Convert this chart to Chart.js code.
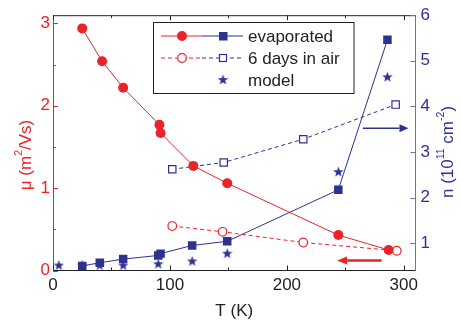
<!DOCTYPE html>
<html>
<head>
<meta charset="utf-8">
<script src="https://cdn.jsdelivr.net/npm/chart.js@4.4.1/dist/chart.umd.min.js"></script>
<style>
  html, body { margin: 0; padding: 0; background: #fff; }
  #wrap { width: 460px; height: 327px; }
</style>
</head>
<body>
<div id="wrap"><canvas id="chart" width="460" height="327"></canvas></div>
<script>
// mobility (left axis)
const T_MU_EVAP = [25, 42, 60, 91, 92, 120, 149, 244, 287];
const MU_EVAP = [2.94, 2.54, 2.22, 1.77, 1.67, 1.27, 1.06, 0.43, 0.25];
const T_MU_AIR = [102, 145, 214, 294];
const MU_AIR = [0.54, 0.47, 0.34, 0.24];

// carrier density (right axis)
const T_N_EVAP = [25, 40, 60, 90, 92, 119, 149, 244, 286];
const N_EVAP = [0.50, 0.57, 0.65, 0.73, 0.77, 0.95, 1.04, 2.17, 5.46];
const T_N_AIR = [102, 146, 214, 293];
const N_AIR = [2.62, 2.77, 3.28, 4.04];
const T_MODEL = [5, 25, 40, 60, 90, 119, 149, 244, 286];
const N_MODEL = [0.52, 0.52, 0.52, 0.52, 0.55, 0.61, 0.78, 2.57, 4.65];

// axis ticks
const X_TICKS = [0, 100, 200, 300];
const X_MINOR = [50, 150, 250];
const MU_TICKS = [0, 1, 2, 3];
const MU_MINOR = [0.5, 1.5, 2.5];
const N_TICKS = [1, 2, 3, 4, 5, 6];

// arrows pointing to each axis (in data units)
const MU_ARROW_T = [281, 243];
const MU_ARROW_Y = 0.12;
const N_ARROW_T = [265, 304];
const N_ARROW_Y = 3.52;

const LEGEND_LABELS = ['evaporated', '6 days in air', 'model'];

const RED = '#e8242a';
const BLUE = '#2e3192';
const BLUE_AXIS = '#6f73b6';
const FONT = '"Liberation Sans", Arial, sans-serif';

const pts = (xs, ys) => xs.map((x, i) => ({ x: x, y: ys[i] }));

// filled five point star for the model points
function makeStar(size, color) {
    const c = document.createElement('canvas');
    c.width = size; c.height = size;
    const g = c.getContext('2d');
    const r = size / 2, ri = r * 0.42;
    g.beginPath();
    for (let i = 0; i < 10; i++) {
        const rad = i % 2 ? ri : r;
        const a = -Math.PI / 2 + i * Math.PI / 5;
        g.lineTo(r + rad * Math.cos(a), r + 0.5 + rad * Math.sin(a));
    }
    g.closePath();
    g.fillStyle = color;
    g.fill();
    return c;
}
const star = makeStar(11, BLUE);

function richText(ctx, parts, cx, cy, rot, size, color) {
    ctx.save();
    ctx.translate(cx, cy);
    ctx.rotate(rot);
    ctx.fillStyle = color;
    ctx.textBaseline = 'middle';
    let w = 0;
    parts.forEach(p => {
        ctx.font = (p.sup ? size * 0.62 : size) + 'px ' + FONT;
        w += ctx.measureText(p.t).width;
    });
    let x = -w / 2;
    parts.forEach(p => {
        ctx.font = (p.sup ? size * 0.62 : size) + 'px ' + FONT;
        ctx.textAlign = 'left';
        ctx.fillText(p.t, x, p.sup ? -size * 0.38 : 0);
        x += ctx.measureText(p.t).width;
    });
    ctx.restore();
}

function arrow(ctx, x1, x2, y, color, lw, head) {
    const dir = Math.sign(x2 - x1);
    ctx.strokeStyle = color;
    ctx.fillStyle = color;
    ctx.lineWidth = lw;
    ctx.beginPath();
    ctx.moveTo(x1, y);
    ctx.lineTo(x2 - dir * head, y);
    ctx.stroke();
    ctx.beginPath();
    ctx.moveTo(x2, y);
    ctx.lineTo(x2 - dir * head, y - 4);
    ctx.lineTo(x2 - dir * head, y + 4);
    ctx.closePath();
    ctx.fill();
}

const decor = {
    id: 'decor',
    afterDatasetsDraw(chart) {
        const { ctx, chartArea: a, scales } = chart;
        const sx = scales.x, smu = scales.yMu, sn = scales.yN;
        ctx.save();

        // top frame
        ctx.strokeStyle = '#222';
        ctx.lineWidth = 1;
        ctx.beginPath();
        ctx.moveTo(a.left, a.top + 0.5);
        ctx.lineTo(a.right, a.top + 0.5);
        ctx.stroke();

        // inward tick marks
        const xTick = (v, len) => {
            const px = Math.round(sx.getPixelForValue(v)) + 0.5;
            ctx.beginPath();
            ctx.moveTo(px, a.bottom); ctx.lineTo(px, a.bottom - len);
            ctx.moveTo(px, a.top); ctx.lineTo(px, a.top + len);
            ctx.stroke();
        };
        X_TICKS.forEach(v => xTick(v, 5));
        X_MINOR.forEach(v => xTick(v, 3));

        ctx.strokeStyle = RED;
        const muTick = (v, len) => {
            const py = Math.round(smu.getPixelForValue(v)) + 0.5;
            ctx.beginPath();
            ctx.moveTo(a.left, py); ctx.lineTo(a.left + len, py);
            ctx.stroke();
        };
        MU_TICKS.forEach(v => muTick(v, 5));
        MU_MINOR.forEach(v => muTick(v, 3));

        ctx.strokeStyle = BLUE_AXIS;
        N_TICKS.forEach(v => {
            const py = Math.round(sn.getPixelForValue(v)) + 0.5;
            ctx.beginPath();
            ctx.moveTo(a.right, py); ctx.lineTo(a.right - 5, py);
            ctx.stroke();
        });

        // arrows
        arrow(ctx, sx.getPixelForValue(N_ARROW_T[0]), sx.getPixelForValue(N_ARROW_T[1]),
            sn.getPixelForValue(N_ARROW_Y), BLUE, 1.5, 9);
        arrow(ctx, sx.getPixelForValue(MU_ARROW_T[0]), sx.getPixelForValue(MU_ARROW_T[1]),
            smu.getPixelForValue(MU_ARROW_Y), RED, 2.5, 10);

        // legend
        ctx.fillStyle = '#fff';
        ctx.fillRect(153.5, 22.5, 200.5, 71);
        ctx.strokeStyle = '#222';
        ctx.lineWidth = 1;
        ctx.strokeRect(153.5, 22.5, 200.5, 71);
        const rows = [36, 58, 80];
        for (let r = 0; r < 2; r++) {
            const y = rows[r];
            ctx.setLineDash(r ? [4, 3] : []);
            ctx.lineWidth = 1;
            ctx.strokeStyle = RED;
            ctx.beginPath(); ctx.moveTo(161, y); ctx.lineTo(202, y); ctx.stroke();
            ctx.strokeStyle = BLUE;
            ctx.beginPath(); ctx.moveTo(202, y); ctx.lineTo(243, y); ctx.stroke();
            ctx.setLineDash([]);
            ctx.beginPath();
            ctx.arc(182, y, r ? 4.3 : 5, 0, Math.PI * 2);
            ctx.fillStyle = r ? '#fff' : RED;
            ctx.fill();
            if (r) { ctx.strokeStyle = RED; ctx.lineWidth = 1.2; ctx.stroke(); }
            if (r) {
                ctx.fillStyle = '#fff';
                ctx.fillRect(219.5, y - 3.5, 7, 7);
                ctx.strokeStyle = BLUE; ctx.lineWidth = 1.2;
                ctx.strokeRect(219.5, y - 3.5, 7, 7);
            } else {
                ctx.fillStyle = BLUE;
                ctx.fillRect(219, y - 4, 8.5, 8.5);
            }
        }
        ctx.drawImage(star, 217.5, rows[2] - 6);
        ctx.fillStyle = '#222';
        ctx.font = '17px ' + FONT;
        ctx.textAlign = 'left';
        ctx.textBaseline = 'middle';
        LEGEND_LABELS.forEach((t, i) => ctx.fillText(t, 248, rows[i] + 1));

        // axis titles
        richText(ctx, [{ t: 'T (K)' }], (a.left + a.right) / 2, 311, 0, 17, '#222');
        richText(ctx, [{ t: 'μ (m' }, { t: '2', sup: true }, { t: '/Vs)' }],
            26, 155, -Math.PI / 2, 17, RED);
        richText(ctx, [{ t: 'n (10' }, { t: '11', sup: true }, { t: ' cm' }, { t: '-2', sup: true }, { t: ')' }],
            448, 152, -Math.PI / 2, 17, BLUE);

        ctx.restore();
    }
};

const ctx = document.getElementById('chart').getContext('2d');
const chart = new Chart(ctx, {
    type: 'line',
    data: {
        datasets: [
            {
                data: pts(T_MU_EVAP, MU_EVAP), yAxisID: 'yMu',
                borderColor: RED, borderWidth: 1,
                pointRadius: 5, pointBackgroundColor: RED, pointBorderWidth: 0
            },
            {
                data: pts(T_MU_AIR, MU_AIR), yAxisID: 'yMu',
                borderColor: RED, borderWidth: 1, borderDash: [4, 3],
                pointRadius: 4.3, pointBackgroundColor: '#fff', pointBorderColor: RED, pointBorderWidth: 1.2
            },
            {
                data: pts(T_N_EVAP, N_EVAP), yAxisID: 'yN',
                borderColor: BLUE, borderWidth: 1, pointStyle: 'rect',
                pointRadius: 6, pointBackgroundColor: BLUE, pointBorderWidth: 0
            },
            {
                data: pts(T_N_AIR, N_AIR), yAxisID: 'yN',
                borderColor: BLUE, borderWidth: 1, borderDash: [4, 3], pointStyle: 'rect',
                pointRadius: 5.2, pointBackgroundColor: '#fff', pointBorderColor: BLUE, pointBorderWidth: 1.2
            },
            {
                data: pts(T_MODEL, N_MODEL), yAxisID: 'yN',
                showLine: false, pointStyle: star, pointRadius: 6
            }
        ]
    },
    options: {
        responsive: false,
        animation: false,
        devicePixelRatio: 1,
        layout: { padding: { top: 13, left: 0, right: 0, bottom: 0 } },
        plugins: { legend: { display: false }, tooltip: { enabled: false } },
        scales: {
            x: {
                type: 'linear', position: 'bottom', min: 0, max: 310,
                afterBuildTicks: s => { s.ticks = X_TICKS.map(v => ({ value: v })); },
                afterFit: s => { s.height = 56.5; },
                grid: { drawOnChartArea: false, drawTicks: false },
                border: { color: '#222', width: 1 },
                ticks: { color: '#222', font: { family: FONT, size: 17 }, padding: 5, maxRotation: 0 }
            },
            yMu: {
                type: 'linear', position: 'left', min: 0, max: 3.1,
                afterBuildTicks: s => { s.ticks = MU_TICKS.map(v => ({ value: v })); },
                afterFit: s => { s.width = 53; },
                grid: { drawOnChartArea: false, drawTicks: false },
                border: { color: RED, width: 1 },
                ticks: { color: RED, font: { family: FONT, size: 17 }, padding: 3 }
            },
            yN: {
                type: 'linear', position: 'right', min: 0.4, max: 6,
                afterBuildTicks: s => { s.ticks = N_TICKS.map(v => ({ value: v })); },
                afterFit: s => { s.width = 44.5; },
                grid: { drawOnChartArea: false, drawTicks: false },
                border: { color: BLUE_AXIS, width: 1 },
                ticks: { color: BLUE, font: { family: FONT, size: 17 }, padding: 5 }
            }
        }
    },
    plugins: [decor]
});
</script>
</body>
</html>
